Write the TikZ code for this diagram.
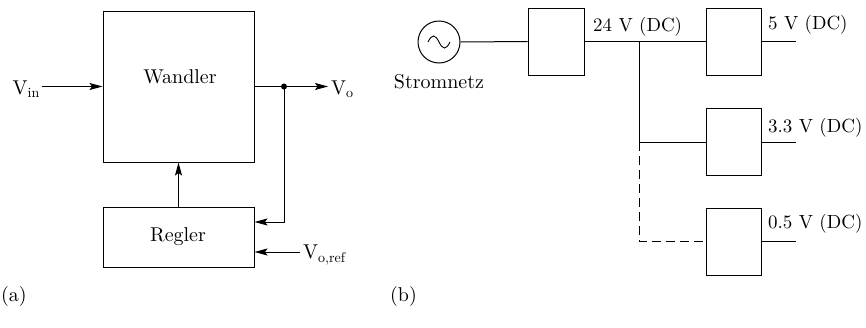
\documentclass[tikz,border=0pt]{standalone}
\usepackage{fontspec}
\setmainfont{lmroman10-regular.otf}
\usetikzlibrary{arrows.meta,calc}
\begin{document}
\begin{tikzpicture}[x=1pt,y=-1pt,
  font=\fontsize{20}{24}\selectfont,
  ln/.style={line width=1pt},
  arr/.style={ln,-{Stealth[length=13pt,width=7pt,inset=2.5pt]}},
  blk/.style={draw,line width=1pt,inner sep=0pt,rectangle},
  lbl/.style={inner sep=0pt},
  vlbl/.style={inner sep=0pt,anchor=west,font=\fontsize{19}{23}\selectfont}]
\useasboundingbox (0,0) rectangle (866,327);
% ---------- (a) ----------
\node[blk,minimum width=151pt,minimum height=151pt] (W) at (178.5,86.5) {};
\node[lbl] (Wt) at (180,77) {Wandler};
\node[blk,minimum width=151pt,minimum height=60pt] (R) at (178.5,237) {};
\node[lbl] (Rt) at (178,237) {Regler};
\node[lbl,anchor=east] (Vin) at (40,89) {V\textsubscript{in}};
\node[lbl,anchor=west] (Vo) at (331,89) {V\textsubscript{o}};
\node[lbl,anchor=west] (Vref) at (303,255) {V\textsubscript{o,ref}};
\coordinate (D) at (284,86.5);
\draw[arr] (42,86.5 -| Vin.east) ++(2,0) coordinate (vs) -- (W.west);
\draw[ln] (W.east) -- (D);
\draw[arr] (D) -- (328,86.5) coordinate (ve);
\fill (D) circle (3pt);
\coordinate (Rin) at ($(R.east)+(0,-15)$);
\coordinate (Rref) at ($(R.east)+(0,15)$);
\draw[arr] (D) |- (Rin);
\draw[arr] (300,252) coordinate (rs) -- (Rref);
\draw[arr] (R.north) -- (W.south);
\node[lbl,anchor=west] (la) at (1,296) {(a)};
% ---------- (b) ----------
\node[draw,circle,line width=1pt,minimum size=42pt,inner sep=0pt] (S) at (439,42) {};
\draw[line width=0.9pt] (428,42) .. controls (432,34) and (435,34) .. (439,42)
  .. controls (443,50) and (446,50) .. (450,42);
\node[lbl] (St) at (439,82) {Stromnetz};
\node[blk,minimum width=56pt,minimum height=67pt] (B1) at (556,41.5) {};
\node[blk,minimum width=55pt,minimum height=67pt] (B2) at (733.5,41.5) {};
\node[blk,minimum width=55pt,minimum height=67pt] (B3) at (733.5,142) {};
\node[blk,minimum width=55pt,minimum height=67pt] (B4) at (733.5,241.5) {};
\coordinate (J) at (639,41.5);
\coordinate (J2) at (639,142);
\coordinate (J3) at (639,241.5);
\draw[ln] (S.east) -- (B1.west);
\draw[ln] (B1.east) -- (B2.west);
\draw[ln] (J) -- (J2) -- (B3.west);
\draw[ln,dashed,dash pattern=on 9pt off 5pt] (J2) -- (J3) -- (B4.west);
\coordinate (o1) at (796,41.5);
\coordinate (o2) at (796,142);
\coordinate (o3) at (796,241.5);
\draw[ln] (B2.east) -- (o1);
\draw[ln] (B3.east) -- (o2);
\draw[ln] (B4.east) -- (o3);
\node[vlbl] (l24) at (593,27) {24 V (DC)};
\node[vlbl] (l5) at (768,25) {5 V (DC)};
\node[vlbl] (l33) at (768,128) {3.3 V (DC)};
\node[vlbl] (l05) at (768,224) {0.5 V (DC)};
\node[lbl,anchor=west] (lb) at (390,296) {(b)};
\end{tikzpicture}
\end{document}
